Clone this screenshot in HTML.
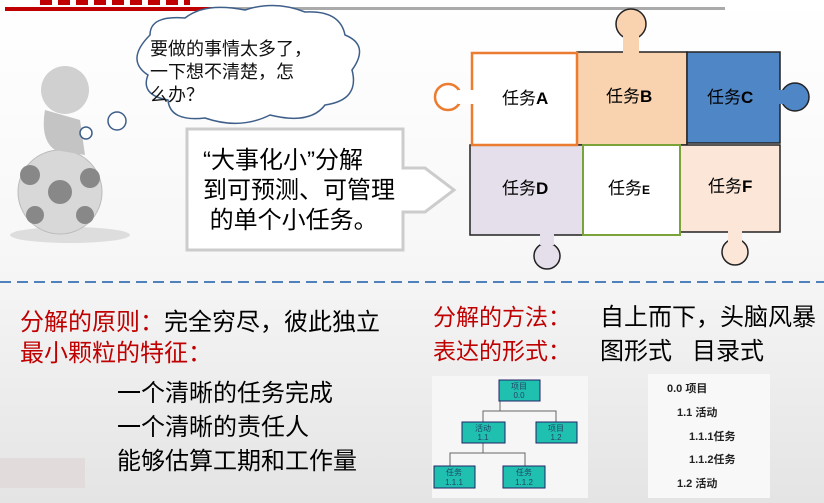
<!DOCTYPE html>
<html><head><meta charset="utf-8"><style>
body{margin:0;width:824px;height:503px;overflow:hidden;background:linear-gradient(#fff 0%,#f7f7f7 50%,#e4e4e4 100%);font-family:"Liberation Sans","Noto Sans CJK SC",sans-serif;position:relative}
.t{position:absolute;white-space:nowrap;line-height:1}
.r{color:#c00000}
</style></head><body>
<div style="position:absolute;left:5px;top:7px;width:207px;height:4px;background:#c00000"></div>
<div style="position:absolute;left:40px;top:0;width:150px;height:5px;background:repeating-linear-gradient(90deg,#c00000 0 12px,transparent 12px 18px)"></div>
<div style="position:absolute;left:212px;top:7px;width:513px;height:3px;background:#aaa"></div>

<svg width="824" height="503" style="position:absolute;left:0;top:0">
 <ellipse cx="70" cy="235" rx="60" ry="8" fill="#ddd"/>
 <circle cx="60" cy="192" r="42" fill="#d8d8d8" stroke="#bbb"/>
 <circle cx="60" cy="192" r="12" fill="#888"/>
 <circle cx="30" cy="175" r="10" fill="#888"/>
 <circle cx="90" cy="178" r="10" fill="#888"/>
 <circle cx="35" cy="215" r="9" fill="#888"/>
 <circle cx="85" cy="215" r="9" fill="#888"/>
 <circle cx="65" cy="90" r="24" fill="#d0d0d0"/>
 <path d="M45 110 Q40 140 55 150 L85 155 L80 120 Z" fill="#c4c4c4"/>
 <path d="M150 35 Q150 15 185 18 Q205 2 245 10 Q275 0 305 12 Q340 10 345 35 Q370 45 352 70 Q360 100 325 105 Q310 125 270 115 Q240 130 205 118 Q170 122 168 100 Q140 95 148 75 Q125 60 150 35 Z" fill="#fff" stroke="#3e5f8a" stroke-width="1.5"/>
 <circle cx="117" cy="121" r="9" fill="#fff" stroke="#3e5f8a" stroke-width="1.5"/>
 <circle cx="86" cy="133" r="6" fill="#fff" stroke="#3e5f8a" stroke-width="1.5"/>
 <path d="M187 129 L403 129 L403 168 L425 168 L454 190 L425 212 L403 212 L403 250 L187 250 Z" fill="#fff" stroke="#ccc" stroke-width="3"/>
 <g stroke="#222" stroke-width="1.5">
  <circle cx="631" cy="24" r="15" fill="#f9d2b0"/>
  <rect x="577" y="52" width="110" height="93" fill="#f9d2b0"/>
  <rect x="623" y="32" width="16" height="22" fill="#f9d2b0" stroke="none"/>
  <circle cx="795" cy="97" r="14" fill="#4f86c6"/>
  <rect x="687" y="52" width="93" height="91" fill="#4f86c6"/>
  <rect x="778" y="90" width="10" height="14" fill="#4f86c6" stroke="none"/>
  <circle cx="547" cy="256" r="13" fill="#e4dfea"/>
  <rect x="470" y="145" width="113" height="90" fill="#e4dfea"/>
  <rect x="540" y="233" width="14" height="12" fill="#e4dfea" stroke="none"/>
  <circle cx="735" cy="252" r="13" fill="#fce6d8"/>
  <rect x="680" y="145" width="100" height="87" fill="#fce6d8"/>
  <rect x="728" y="230" width="14" height="12" fill="#fce6d8" stroke="none"/>
  <rect x="583" y="145" width="97" height="90" fill="#fff" stroke="#7aa33a" stroke-width="2"/>
  <circle cx="448" cy="97" r="13" fill="#fff" stroke="#ec7c30" stroke-width="2.5"/>
  <rect x="472" y="53" width="105" height="92" fill="#fff" stroke="#ec7c30" stroke-width="2.5"/>
  <rect x="458" y="90" width="16" height="14" fill="#fff" stroke="none"/>
 </g>
 <line x1="0" y1="282" x2="824" y2="282" stroke="#4f81bd" stroke-width="2" stroke-dasharray="11,6"/>
 <rect x="432" y="376" width="156" height="122" fill="#f6f6f6"/>
 <g stroke="#666" fill="none"><path d="M500 401V411H483V422M500 411H556V422M483 437V453H450V466M483 453H525V466"/></g>
 <g fill="#20c0b0" stroke="#226" stroke-width="1">
  <rect x="499" y="380" width="41" height="21"/><rect x="462" y="422" width="43" height="21"/>
  <rect x="536" y="422" width="41" height="21"/><rect x="434" y="466" width="41" height="22"/><rect x="503" y="466" width="42" height="22"/>
 </g>
 <g font-size="8" fill="#246" text-anchor="middle" font-family="Liberation Sans,Noto Sans CJK SC,sans-serif">
  <text x="519" y="389">项目</text><text x="519" y="398">0.0</text>
  <text x="483" y="431">活动</text><text x="483" y="440">1.1</text>
  <text x="556" y="431">项目</text><text x="556" y="440">1.2</text>
  <text x="454" y="475">任务</text><text x="454" y="485">1.1.1</text>
  <text x="524" y="475">任务</text><text x="524" y="485">1.1.2</text>
 </g>
 <rect x="648" y="374" width="122" height="124" fill="#f8f8f8"/>
 <g font-size="11" font-weight="bold" fill="#222" font-family="Liberation Sans,Noto Sans CJK SC,sans-serif">
  <text x="667" y="392">0.0 项目</text><text x="677" y="416">1.1 活动</text>
  <text x="689" y="440">1.1.1任务</text><text x="689" y="463">1.1.2任务</text><text x="677" y="487">1.2 活动</text>
 </g>
 <rect x="0" y="458" width="85" height="30" fill="#e0d4d4" opacity="0.6"/>
</svg>

<div class="t" style="left:150px;top:38px;font-size:18px;line-height:23px;color:#111">要做的事情太多了，<br>一下想不清楚，怎<br>么办？</div>
<div class="t" style="left:203px;top:146px;font-size:24px;line-height:30px;color:#000">“大事化小”分解<br>到可预测、可管理<br>&nbsp;的单个小任务。</div>

<div class="t" style="left:502px;top:90px;font-size:17px">任务<b>A</b></div>
<div class="t" style="left:606px;top:88px;font-size:17px">任务<b>B</b></div>
<div class="t" style="left:707px;top:89px;font-size:17px">任务<b>C</b></div>
<div class="t" style="left:502px;top:180px;font-size:17px">任务<b>D</b></div>
<div class="t" style="left:608px;top:180px;font-size:17px">任务<b style="font-size:12px">E</b></div>
<div class="t" style="left:708px;top:178px;font-size:17px">任务<b>F</b></div>

<div class="t" style="left:20px;top:311px;font-size:24px"><span class="r">分解的原则：</span>完全穷尽，彼此独立</div>
<div class="t r" style="left:20px;top:342px;font-size:24px">最小颗粒的特征：</div>
<div class="t" style="left:117px;top:377px;font-size:24px;line-height:34px">一个清晰的任务完成<br>一个清晰的责任人<br>能够估算工期和工作量</div>
<div class="t r" style="left:433px;top:306px;font-size:23px">分解的方法：</div>
<div class="t" style="left:600px;top:306px;font-size:24px">自上而下，头脑风暴</div>
<div class="t r" style="left:433px;top:340px;font-size:23px">表达的形式：</div>
<div class="t" style="left:600px;top:340px;font-size:24px">图形式&nbsp;&nbsp; 目录式</div>
</body></html>
